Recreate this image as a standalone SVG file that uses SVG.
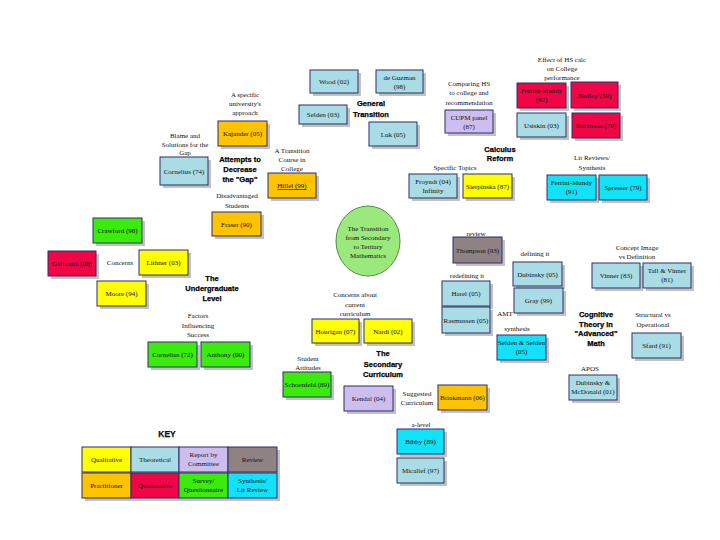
<svg xmlns="http://www.w3.org/2000/svg" width="720" height="540" viewBox="0 0 720 540">
<style>
.sh{fill:#a8a8a8;opacity:0.7}
.b{stroke:#2c2c6a;stroke-width:1}
.lb{fill:#AADCE6}.ye{fill:#FFFF00}.or{fill:#FFC300}.gr{fill:#3BEB0C}.rd{fill:#F00646}.cy{fill:#12E2F8}.lv{fill:#CDBEF0}.gy{fill:#8F8283}
text{font-family:"Liberation Serif","Times New Roman",serif;font-size:7px;fill:#111;text-anchor:middle}
.h{font-family:"Liberation Sans",Arial,sans-serif;font-weight:bold;font-size:7.5px;fill:#000;stroke:#000;stroke-width:0.25}
.k{font-family:"Liberation Sans",Arial,sans-serif;font-weight:bold;font-size:8.5px;stroke:#000;stroke-width:0.25}
</style>
<rect width="720" height="540" fill="#fff"/>

<g id="n-wood"><rect class="sh" x="313" y="73" width="48" height="23"/><rect class="b lb" x="310" y="70" width="48" height="23"/><text x="334" y="84">Wood (02)</text></g>
<g id="n-deguzman"><rect class="sh" x="379" y="73" width="47" height="23"/><rect class="b lb" x="376" y="70" width="47" height="23"/><text x="399.5" y="80">de Guzman</text><text x="399.5" y="89">(98)</text></g>
<g id="n-selden03"><rect class="sh" x="302" y="108" width="48" height="19"/><rect class="b lb" x="299" y="105" width="48" height="19"/><text x="323" y="117">Selden (03)</text></g>
<g id="n-luk"><rect class="sh" x="372" y="125" width="48" height="24"/><rect class="b lb" x="369" y="122" width="48" height="24"/><text x="393" y="136.5">Luk (05)</text></g>
<g id="h-general"><text class="h" x="371" y="106">General</text><text class="h" x="371" y="117">Transition</text></g>

<g id="l-specific"><text x="245" y="97">A specific</text><text x="245" y="106">university's</text><text x="245" y="115">approach</text></g>
<g id="n-kajander"><rect class="sh" x="221" y="124" width="49" height="25"/><rect class="b or" x="218" y="121" width="49" height="25"/><text x="242.5" y="136">Kajander (05)</text></g>
<g id="l-blame"><text x="185" y="138">Blame and</text><text x="185" y="147">Solutions for the</text><text x="185" y="155">Gap</text></g>
<g id="n-cornelius74"><rect class="sh" x="163" y="160" width="48" height="28"/><rect class="b lb" x="160" y="157" width="48" height="28"/><text x="184" y="173.5">Cornelius (74)</text></g>
<g id="h-attempts"><text class="h" x="240" y="162">Attempts to</text><text class="h" x="240" y="172">Decrease</text><text class="h" x="240" y="182">the "Gap"</text></g>
<g id="l-transition"><text x="292" y="153">A Transition</text><text x="292" y="162">Course in</text><text x="292" y="171">College</text></g>
<g id="n-hillel"><rect class="sh" x="271" y="176" width="48" height="25"/><rect class="b or" x="268" y="173" width="48" height="25"/><text x="292" y="188" text-decoration="underline">Hillel (99)</text></g>
<g id="l-disadv"><text x="237" y="198">Disadvantaged</text><text x="237" y="208">Students</text></g>
<g id="n-fraser"><rect class="sh" x="215" y="215" width="49" height="24"/><rect class="b or" x="212" y="212" width="49" height="24"/><text x="236.5" y="226.5">Fraser (90)</text></g>

<g id="n-crawford"><rect class="sh" x="96" y="221" width="49" height="25"/><rect class="b gr" x="93" y="218" width="49" height="25"/><text x="117.5" y="233">Crawford (98)</text></g>
<g id="n-galbraith"><rect class="sh" x="51" y="254" width="48" height="25"/><rect class="b rd" x="48" y="251" width="48" height="25"/><text x="72" y="266">Galbraith (00)</text></g>
<g id="l-concerns"><text x="120" y="265">Concerns</text></g>
<g id="n-lithner"><rect class="sh" x="142" y="253" width="49" height="25"/><rect class="b ye" x="139" y="250" width="49" height="25"/><text x="163.5" y="265">Lithner (03)</text></g>
<g id="n-moore"><rect class="sh" x="100" y="284" width="49" height="25"/><rect class="b ye" x="97" y="281" width="49" height="25"/><text x="121.5" y="296">Moore (94)</text></g>
<g id="h-undergrad"><text class="h" x="212" y="281">The</text><text class="h" x="212" y="291">Undergraduate</text><text class="h" x="212" y="301">Level</text></g>
<g id="l-factors"><text x="198" y="318">Factors</text><text x="198" y="328">Influencing</text><text x="198" y="337">Success</text></g>
<g id="n-cornelius72"><rect class="sh" x="151" y="345" width="49" height="25"/><rect class="b gr" x="148" y="342" width="49" height="25"/><text x="172.5" y="357">Cornelius (72)</text></g>
<g id="n-anthony"><rect class="sh" x="204" y="345" width="49" height="25"/><rect class="b gr" x="201" y="342" width="49" height="25"/><text x="225.5" y="357">Anthony (00)</text></g>

<g id="n-center"><ellipse cx="368" cy="241" rx="32" ry="35" fill="#9BE87C" stroke="#4f8f45" stroke-width="1"/><text x="368" y="231">The Transition</text><text x="368" y="240">from Secondary</text><text x="368" y="249">to Tertiary</text><text x="368" y="258">Mathematics</text></g>

<g id="l-effect"><text x="562" y="62">Effect of HS calc</text><text x="562" y="71">on College</text><text x="562" y="80">performance</text></g>
<g id="l-comparing"><text x="469" y="86">Comparing HS</text><text x="469" y="95">to college and</text><text x="469" y="105">recommendation</text></g>
<g id="n-cupm"><rect class="sh" x="448" y="113" width="48" height="23"/><rect class="b lv" x="445" y="110" width="48" height="23"/><text x="469" y="120">CUPM panel</text><text x="469" y="129">(87)</text></g>
<g id="n-ferrini92"><rect class="sh" x="520" y="86" width="49" height="25"/><rect class="b rd" x="517" y="83" width="49" height="25"/><text x="541.5" y="93">Ferrini-Mundy</text><text x="541.5" y="102">(92)</text></g>
<g id="n-nedley"><rect class="sh" x="574" y="85" width="47" height="26"/><rect class="b rd" x="571" y="82" width="47" height="26"/><text x="594.5" y="97.5">Nedley (59)</text></g>
<g id="n-usiskin"><rect class="sh" x="520" y="116" width="49" height="24"/><rect class="b lb" x="517" y="113" width="49" height="24"/><text x="541.5" y="127.5">Usiskin (03)</text></g>
<g id="n-robinson"><rect class="sh" x="575" y="116" width="48" height="25"/><rect class="b rd" x="572" y="113" width="48" height="25"/><text x="596" y="128">Robinson (70)</text></g>
<g id="h-calculus"><text class="h" x="500" y="152">Calculus</text><text class="h" x="500" y="161">Reform</text></g>
<g id="l-topics"><text x="455" y="170">Specific Topics</text></g>
<g id="n-froyndt"><rect class="sh" x="412" y="177" width="48" height="24"/><rect class="b lb" x="409" y="174" width="48" height="24"/><text x="433" y="184">Froyndt (04)</text><text x="433" y="193">Infinity</text></g>
<g id="n-sierpinska"><rect class="sh" x="466" y="177" width="49" height="24"/><rect class="b ye" x="463" y="174" width="49" height="24"/><text x="487.5" y="188.5">Sierpinska (87)</text></g>
<g id="l-litrev"><text x="592" y="160">Lit Reviews/</text><text x="592" y="170">Synthesis</text></g>
<g id="n-ferrini91"><rect class="sh" x="550" y="178" width="49" height="25"/><rect class="b cy" x="547" y="175" width="49" height="25"/><text x="571.5" y="185">Ferrini-Mundy</text><text x="571.5" y="194">(91)</text></g>
<g id="n-spresser"><rect class="sh" x="602" y="178" width="48" height="25"/><rect class="b cy" x="599" y="175" width="48" height="25"/><text x="623" y="190">Spresser (79)</text></g>

<g id="l-review"><text x="476" y="236">review</text></g>
<g id="n-thompson"><rect class="sh" x="456" y="240" width="49" height="26"/><rect class="b gy" x="453" y="237" width="49" height="26"/><text x="477.5" y="252.5">Thompson (93)</text></g>
<g id="l-redefining"><text x="467" y="278">redefining it</text></g>
<g id="n-harel"><rect class="sh" x="445" y="284" width="48" height="25"/><rect class="b lb" x="442" y="281" width="48" height="25"/><text x="466" y="296">Harel (05)</text></g>
<g id="n-rasmussen"><rect class="sh" x="445" y="310" width="48" height="26"/><rect class="b lb" x="442" y="307" width="48" height="26"/><text x="466" y="322.5">Rasmussen (05)</text></g>
<g id="l-defining"><text x="535" y="256">defining it</text></g>
<g id="n-dubinsky05"><rect class="sh" x="516" y="265" width="49" height="24"/><rect class="b lb" x="513" y="262" width="49" height="24"/><text x="537.5" y="276.5">Dubinsky (05)</text></g>
<g id="n-gray"><rect class="sh" x="517" y="291" width="49" height="25"/><rect class="b lb" x="514" y="288" width="49" height="25"/><text x="538.5" y="303">Gray (99)</text></g>
<g id="l-amt"><text x="505" y="316">AMT</text></g>
<g id="l-synthesis"><text x="517" y="331">synthesis</text></g>
<g id="n-seldens"><rect class="sh" x="500" y="338" width="49" height="25"/><rect class="b cy" x="497" y="335" width="49" height="25"/><text x="521.5" y="345">Selden &amp; Selden</text><text x="521.5" y="354">(05)</text></g>
<g id="l-concept"><text x="637" y="250">Concept Image</text><text x="637" y="259">vs Definition</text></g>
<g id="n-vinner"><rect class="sh" x="595" y="266" width="48" height="25"/><rect class="b lb" x="592" y="263" width="48" height="25"/><text x="616" y="278">Vinner (83)</text></g>
<g id="n-tallvinner"><rect class="sh" x="646" y="266" width="48" height="25"/><rect class="b lb" x="643" y="263" width="48" height="25"/><text x="667" y="273">Tall &amp; Vinner</text><text x="667" y="282">(81)</text></g>
<g id="h-cognitive"><text class="h" x="596" y="317">Cognitive</text><text class="h" x="596" y="327">Theory in</text><text class="h" x="596" y="336">"Advanced"</text><text class="h" x="596" y="346">Math</text></g>
<g id="l-structural"><text x="653" y="317">Structural vs</text><text x="653" y="327">Operational</text></g>
<g id="n-sfard"><rect class="sh" x="635" y="336" width="49" height="25"/><rect class="b lb" x="632" y="333" width="49" height="25"/><text x="656.5" y="348">Sfard (91)</text></g>
<g id="l-apos"><text x="590" y="371">APOS</text></g>
<g id="n-dubmcd"><rect class="sh" x="572" y="378" width="48" height="25"/><rect class="b lb" x="569" y="375" width="48" height="25"/><text x="593" y="385">Dubinsky &amp;</text><text x="593" y="394">McDonald (01)</text></g>

<g id="l-concerns2"><text x="355" y="297">Concerns about</text><text x="355" y="307">current</text><text x="355" y="316">curriculum</text></g>
<g id="n-hourigan"><rect class="sh" x="315" y="322" width="47" height="24"/><rect class="b ye" x="312" y="319" width="47" height="24"/><text x="335.5" y="333.5">Hourigan (07)</text></g>
<g id="n-nardi"><rect class="sh" x="367" y="322" width="48" height="24"/><rect class="b ye" x="364" y="319" width="48" height="24"/><text x="388" y="333.5">Nardi (02)</text></g>
<g id="h-secondary"><text class="h" x="383" y="356">The</text><text class="h" x="383" y="367">Secondary</text><text class="h" x="383" y="377">Curriculum</text></g>
<g id="l-student"><text x="308" y="361">Student</text><text x="308" y="370">Attitudes</text></g>
<g id="n-schoenfeld"><rect class="sh" x="286" y="375" width="48" height="25"/><rect class="b gr" x="283" y="372" width="48" height="25"/><text x="307" y="387">Schoenfeld (89)</text></g>
<g id="n-kendal"><rect class="sh" x="347" y="389" width="49" height="25"/><rect class="b lv" x="344" y="386" width="49" height="25"/><text x="368.5" y="401">Kendal (04)</text></g>
<g id="l-suggested"><text x="417" y="396">Suggested</text><text x="417" y="405">Curriculum</text></g>
<g id="n-brinkmann"><rect class="sh" x="441" y="388" width="49" height="25"/><rect class="b or" x="438" y="385" width="49" height="25"/><text x="462.5" y="400">Brinkmann (06)</text></g>
<g id="l-alevel"><text x="421" y="427">a-level</text></g>
<g id="n-bibby"><rect class="sh" x="400" y="432" width="47" height="25"/><rect class="b cy" x="397" y="429" width="47" height="25"/><text x="420.5" y="444">Bibby (89)</text></g>
<g id="n-micallef"><rect class="sh" x="400" y="461" width="47" height="25"/><rect class="b lb" x="397" y="458" width="47" height="25"/><text x="420.5" y="473">Micallef (97)</text></g>

<g id="key">
<text class="k" x="167" y="437">KEY</text>
<rect class="sh" x="85" y="450" width="195" height="51"/>
<rect class="b ye" x="82" y="447" width="49" height="25"/><text x="106.5" y="462">Qualitative</text>
<rect class="b lb" x="131" y="447" width="48" height="25"/><text x="155" y="462">Theoretical</text>
<rect class="b lv" x="179" y="447" width="49" height="25"/><text x="203.5" y="457">Report by</text><text x="203.5" y="466">Committee</text>
<rect class="b gy" x="228" y="447" width="49" height="25"/><text x="252.5" y="462">Review</text>
<rect class="b or" x="82" y="473" width="49" height="25"/><text x="106.5" y="488">Practitioner</text>
<rect class="b rd" x="131" y="473" width="48" height="25"/><text x="155" y="488">Quantitative</text>
<rect class="b gr" x="179" y="473" width="49" height="25"/><text x="203.5" y="483">Survey/</text><text x="203.5" y="492">Questionnaire</text>
<rect class="b cy" x="228" y="473" width="49" height="25"/><text x="252.5" y="483">Synthesis/</text><text x="252.5" y="492">Lit Review</text>
</g>
</svg>
